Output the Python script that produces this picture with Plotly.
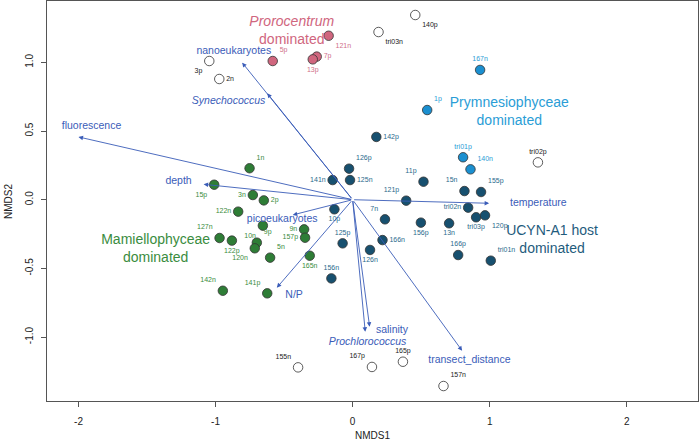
import plotly.graph_objects as go

# ---- site scores (NMDS1, NMDS2) per group ----
white_names = ["3p", "2n", "140p", "tri03n", "tri02p", "155n", "167p", "165p", "157n"]
white_x = [-1.046, -0.973, 0.457, 0.189, 1.352, -0.398, 0.141, 0.367, 0.663]
white_y = [1.010, 0.879, 1.345, 1.221, 0.272, -1.221, -1.218, -1.180, -1.357]
white_pos = ["bottom left", "middle right", "bottom right", "bottom right", "top center",
             "top left", "top left", "top center", "top right"]

pink_names = ["121n", "5p", "7p", "13p"]
pink_x = [-0.175, -0.583, -0.262, -0.291]
pink_y = [1.194, 1.010, 1.042, 1.022]
pink_pos = ["bottom right", "top right", "middle right", "bottom center"]

lblue_names = ["167n", "1p", "tri01p", "140n"]
lblue_x = [0.930, 0.544, 0.806, 0.860]
lblue_y = [0.945, 0.653, 0.309, 0.221]
lblue_pos = ["top center", "top right", "top center", "top right"]

dblue_names = ["142p", "126p", "141n", "125n", "11p", "121p", "15n", "155p", "10p", "7n",
               "156p", "13n", "tri02n", "tri03p", "120p", "125p", "166n", "126n", "166p",
               "tri01n", "156n"]
dblue_x = [0.173, -0.026, -0.146, -0.019, 0.517, 0.391, 0.816, 0.937, -0.133, 0.236,
           0.498, 0.704, 0.843, 0.901, 0.966, -0.073, 0.218, 0.127, 0.770, 1.008, -0.155]
dblue_y = [0.457, 0.226, 0.143, 0.143, 0.131, -0.007, 0.063, 0.056, -0.070, -0.143,
           -0.167, -0.172, -0.058, -0.128, -0.114, -0.318, -0.294, -0.366, -0.403,
           -0.444, -0.573]
dblue_pos = ["middle right", "top right", "middle left", "middle right", "top left",
             "top left", "top left", "top right", "bottom center", "top left",
             "bottom center", "bottom center", "middle left", "bottom center",
             "bottom right", "top center", "middle right", "bottom center", "top center",
             "top right", "top center"]

green_names = ["1n", "15p", "3n", "2p", "122n", "10n", "127n", "122p", "9p", "120n",
               "5n", "9n", "157p", "165n", "142n", "141p"]
green_x = [-0.752, -1.010, -0.728, -0.648, -0.835, -0.655, -0.971, -0.881, -0.699,
           -0.714, -0.602, -0.354, -0.347, -0.313, -0.947, -0.623]
green_y = [0.229, 0.109, 0.034, -0.005, -0.087, -0.189, -0.279, -0.298, -0.313,
           -0.354, -0.422, -0.216, -0.277, -0.408, -0.663, -0.682]
green_pos = ["top right", "bottom left", "middle left", "middle right", "middle left",
             "bottom left", "top left", "bottom center", "top right", "bottom left",
             "top right", "middle left", "middle left", "bottom center", "top left",
             "top left"]

# ---- fitted environmental / taxon vectors ----
vec_names = ["nanoeukaryotes", "<i>Synechococcus</i>", "fluorescence", "depth",
             "picoeukaryotes", "N/P", "temperature", "salinity",
             "<i>Prochlorococcus</i>", "transect_distance"]
vec_x = [-0.806, -0.623, -2.000, -1.087, -0.437, -0.553, 0.996, 0.124, 0.092, 0.799]
vec_y = [0.998, 0.775, 0.457, 0.112, -0.111, -0.641, -0.026, -0.925, -0.961, -1.100]
vec_lab_x = [-0.867, -0.905, -1.905, -1.270, -0.514, -0.427, 1.355, 0.287, 0.109, 0.852]
vec_lab_y = [1.078, 0.714, 0.537, 0.131, -0.143, -0.694, -0.026, -0.949, -1.039, -1.172]

# ---- group labels ----
grp_text = ["<i>Prorocentrum</i><br>dominated", "Prymnesiophyceae<br>dominated",
            "UCYN-A1 host<br>dominated", "Mamiellophyceae<br>dominated"]
grp_x = [-0.444, 1.143, 1.455, -1.437]
grp_y = [1.223, 0.634, -0.299, -0.361]
grp_col = ["#d0667e", "#2a9dd6", "#1f5c7d", "#3a8c40"]

FONT = "Liberation Sans, Arial, sans-serif"
VEC_COL = "#3a5cb8"

fig = go.Figure()

groups = [
    (white_x, white_y, white_names, white_pos, "white", "#222222"),
    (pink_x, pink_y, pink_names, pink_pos, "#d0667e", "#d0708a"),
    (lblue_x, lblue_y, lblue_names, lblue_pos, "#1a8fd0", "#2a9dd6"),
    (dblue_x, dblue_y, dblue_names, dblue_pos, "#17506f", "#2a6a8c"),
    (green_x, green_y, green_names, green_pos, "#2e7d36", "#3a8c40"),
]
for gx, gy, names, pos, fill, tcol in groups:
    fig.add_trace(go.Scatter(
        x=gx, y=gy, mode="markers+text", text=names, textposition=pos,
        textfont=dict(size=7, color=tcol, family=FONT),
        marker=dict(size=9.5, color=fill, line=dict(color="#333333", width=0.8)),
        showlegend=False, hoverinfo="text",
    ))

# vectors drawn from the origin
for vx, vy in zip(vec_x, vec_y):
    fig.add_annotation(x=vx, y=vy, ax=0, ay=0, xref="x", yref="y", axref="x", ayref="y",
                       text="", showarrow=True, arrowhead=2, arrowsize=1.0,
                       arrowwidth=0.9, arrowcolor=VEC_COL)

fig.add_trace(go.Scatter(
    x=vec_lab_x, y=vec_lab_y, mode="text", text=vec_names,
    textfont=dict(size=10.5, color=VEC_COL, family=FONT),
    showlegend=False, hoverinfo="skip",
))

fig.add_trace(go.Scatter(
    x=grp_x, y=grp_y, mode="text", text=grp_text,
    textfont=dict(size=14, color=grp_col, family=FONT),
    showlegend=False, hoverinfo="skip",
))

# axis titles placed by hand (R-style spacing)
fig.add_annotation(text="NMDS1", xref="paper", yref="paper", x=0.5, y=-0.0875,
                   showarrow=False, font=dict(size=10), yanchor="middle")
fig.add_annotation(text="NMDS2", xref="paper", yref="paper", x=-0.06, y=0.5,
                   showarrow=False, font=dict(size=10), textangle=-90, xanchor="center")

fig.update_layout(
    width=700, height=442,
    margin=dict(l=47, r=2, t=1, b=41, autoexpand=False),
    plot_bgcolor="white", paper_bgcolor="white",
    font=dict(family=FONT, size=10, color="#222222"),
)
fig.update_xaxes(
    range=[-2.23, 2.52], tickvals=[-2, -1, 0, 1, 2], ticktext=["-2", "-1", "0", "1", "2"],
    showgrid=False, zeroline=False, showline=True, mirror=True, linecolor="#555555",
    linewidth=1, ticks="outside", ticklen=5, tickcolor="#555555",
    tickfont=dict(size=10), automargin=False, ticklabelstandoff=6,
)
fig.update_yaxes(
    range=[-1.466, 1.447], tickvals=[-1, -0.5, 0, 0.5, 1],
    ticktext=["-1.0", "-0.5", "0.0", "0.5", "1.0"], tickangle=-90,
    showgrid=False, zeroline=False, showline=True, mirror=True, linecolor="#555555",
    linewidth=1, ticks="outside", ticklen=5, tickcolor="#555555",
    tickfont=dict(size=10), automargin=False, ticklabelstandoff=4,
)

# page body has an 8px default margin; drop it so the figure fills the window
fig.write_html("out.html", config={"displayModeBar": False},
               post_script="document.body.style.margin='0px';")
